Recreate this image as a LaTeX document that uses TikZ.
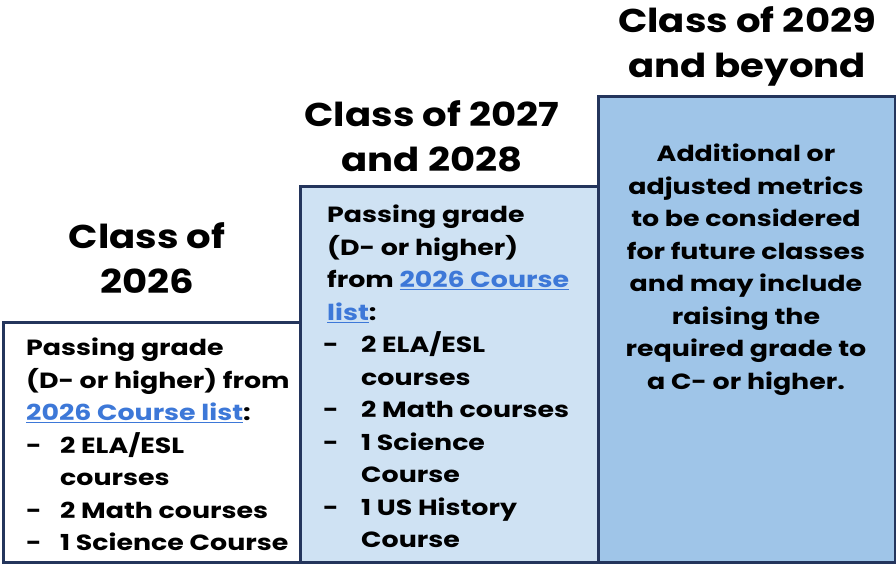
\documentclass[tikz,border=0pt]{standalone}
\usepackage{fontspec}
\setmainfont{Poppins}
\definecolor{frame}{HTML}{24355C}
\definecolor{paleblue}{HTML}{CFE2F3}
\definecolor{midblue}{HTML}{9FC5E8}
\definecolor{linkblue}{HTML}{3D78D8}
\newcommand{\courselink}[1]{\textcolor{linkblue}{\underline{#1}}}
\newcommand{\itm}{\makebox[34pt][l]{-}}
\newcommand{\itmout}{\hspace*{-4pt}\makebox[38pt][l]{-}}
\newcommand{\cont}{\hspace*{34pt}}
\begin{document}
\begin{tikzpicture}[x=1pt,y=-1pt,
  tier/.style={draw=frame, line width=2.6pt, anchor=north west, inner sep=0pt},
  heading/.style={align=center, inner sep=0pt,
    font=\bfseries\fontsize{33}{45}\selectfont\addfontfeatures{FakeStretch=1.17}},
  body/.style={inner sep=0pt,
    font=\bfseries\fontsize{22}{32.5}\selectfont\addfontfeatures{FakeStretch=1.22}}]
\useasboundingbox (0,0) rectangle (896,563);

% the three steps, lowest first
\node[tier, fill=white, minimum width=298pt, minimum height=240pt] (step26) at (2,321) {};
\node[tier, fill=paleblue, minimum width=298pt, minimum height=376pt] (step27) at (299,185) {};
\node[tier, fill=midblue, minimum width=297pt, minimum height=466pt] (step29) at (597,95) {};

% headings above each step
\node[heading] (head26) at (147,258) {Class of\\2026};
\node[heading] (head27) at (432,136) {Class of 2027\\and 2028};
\node[heading] (head29) at (747,46) {Class of 2029\\and beyond};

% requirements for 2026
\node[body, align=left, anchor=north west] (text26) at (26,338) {%
Passing grade\\
(D- or higher) from\\
\courselink{2026 Course list}:\\
\itm 2 ELA/ESL\\
\cont courses\\
\itm 2 Math courses\\
\itm 1 Science Course};

% requirements for 2027 and 2028
\node[body, align=left, anchor=north west] (text27) at (327,205) {%
Passing grade\\
(D- or higher)\\
from \courselink{2026 Course}\\
\courselink{list}:\\
\itmout 2 ELA/ESL\\
\cont courses\\
\itmout 2 Math courses\\
\itmout 1 Science\\
\cont Course\\
\itmout 1 US History\\
\cont Course};

% outlook for 2029 and beyond
\node[body, align=center, anchor=north] (text29) at (746,144) {%
Additional or\\
adjusted metrics\\
to be considered\\
for future classes\\
and may include\\
raising the\\
required grade to\\
a C- or higher.};
\end{tikzpicture}
\end{document}
